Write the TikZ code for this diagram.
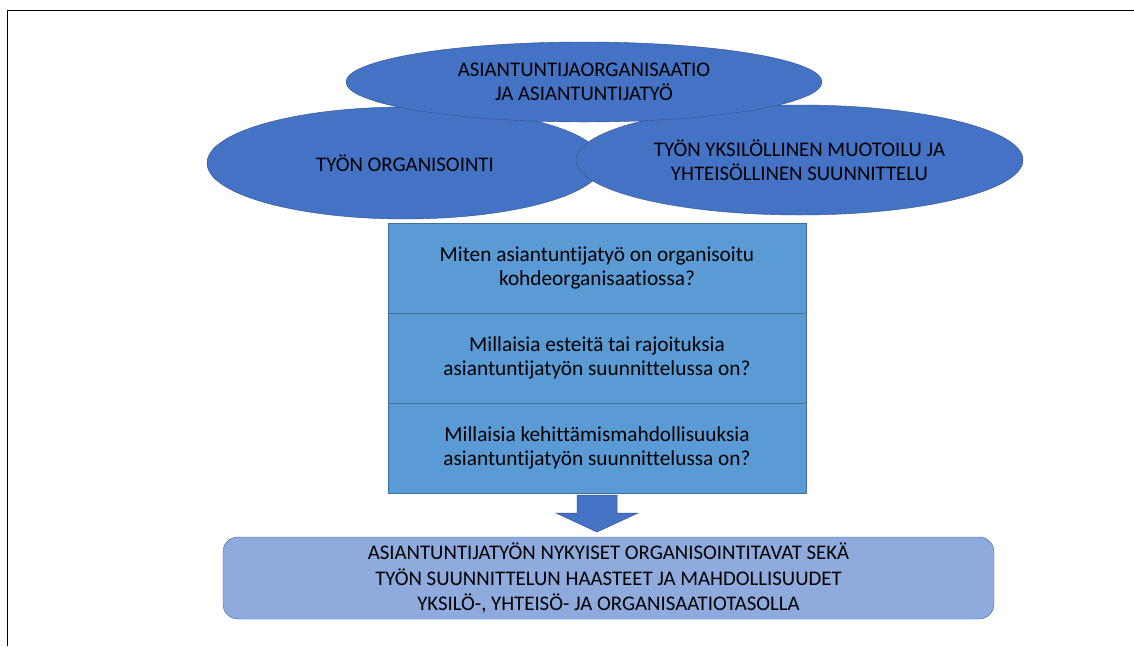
\documentclass[tikz,border=0pt]{standalone}
\usepackage{fontspec}
\setmainfont[Ligatures=NoCommon]{Carlito}
\usetikzlibrary{positioning,shapes.geometric,calc}
\definecolor{ovalblue}{HTML}{4472C4}
\definecolor{ovalline}{HTML}{2F528F}
\definecolor{boxblue}{HTML}{5B9BD5}
\definecolor{boxline}{HTML}{41719C}
\definecolor{resblue}{HTML}{8FAADC}
\definecolor{resline}{HTML}{3A62A8}

\begin{document}
\begin{tikzpicture}[x=1pt,y=-1pt,
    oval/.style={draw=ovalline, fill=ovalblue, ellipse, inner sep=0pt, align=center, font=\fontsize{20.8}{24.5}\selectfont},
    question/.style={draw=boxline, fill=boxblue, rectangle, minimum width=418pt, minimum height=90pt, inner sep=0pt, outer sep=0pt, align=center, font=\fontsize{21.3}{24.5}\selectfont},
    result/.style={draw=resline, fill=resblue, rectangle, rounded corners=15pt, minimum width=771pt, minimum height=82pt, align=center, font=\fontsize{20.8}{25.5}\selectfont}]
    \useasboundingbox (0,0) rectangle (1134,646);
    \draw[line width=1.8pt] (7.5,646) -- (7.5,10.5) -- (1134,10.5);

    % the three themes
    \node[oval, minimum width=396pt, minimum height=112pt] (Org) at (405,163) {TYÖN ORGANISOINTI};
    \node[oval, minimum width=447pt, minimum height=110pt] (Design) at (799.5,160) {TYÖN YKSILÖLLINEN MUOTOILU JA\\YHTEISÖLLINEN SUUNNITTELU};
    \node[oval, minimum width=476pt, minimum height=80pt] (Expert) at (584,82) {ASIANTUNTIJAORGANISAATIO\\JA ASIANTUNTIJATYÖ};

    % research questions
    \node[question] (Q1) at (597,268) {Miten asiantuntijatyö on organisoitu\\kohdeorganisaatiossa?};
    \node[question, below=0pt of Q1] (Q2) {Millaisia esteitä tai rajoituksia\\asiantuntijatyön suunnittelussa on?};
    \node[question, below=0pt of Q2] (Q3) {Millaisia kehittämismahdollisuuksia\\asiantuntijatyön suunnittelussa on?};

    \node[result] (Result) at (608.5,578) {ASIANTUNTIJATYÖN NYKYISET ORGANISOINTITAVAT SEKÄ\\TYÖN SUUNNITTELUN HAASTEET JA MAHDOLLISUUDET\\YKSILÖ-, YHTEISÖ- JA ORGANISAATIOTASOLLA};

    \draw[ovalline, fill=ovalblue, line width=0.5pt] ($(Q3.south)+(-20,2)$) -- ($(Q3.south)+(20,2)$) -- ($(Q3.south)+(20,20)$)
        -- ($(Q3.south)+(41,20)$) -- ($(Q3.south)+(0,39)$) -- ($(Q3.south)+(-41,20)$) -- ($(Q3.south)+(-20,20)$) -- cycle;
\end{tikzpicture}
\end{document}
